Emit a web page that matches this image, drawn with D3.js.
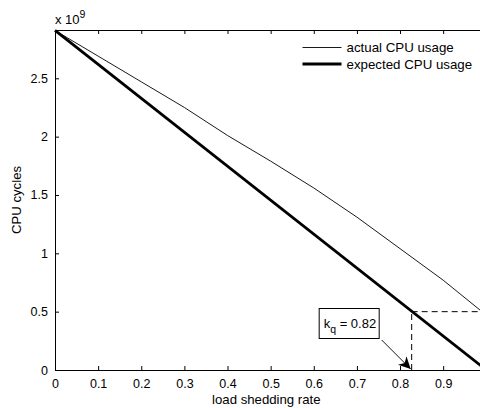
<!DOCTYPE html>
<html><head><meta charset="utf-8">
<script src="https://cdn.jsdelivr.net/npm/d3@7"></script>
<style>body{margin:0;background:#fff}svg{display:block}text{font-family:"Liberation Sans",Arial,Helvetica,sans-serif;fill:#000}</style>
</head><body><svg id="c" width="480" height="408"></svg>
<script>
const rates = [0,0.1,0.2,0.3,0.4,0.5,0.6,0.7,0.8,0.9,1.0];
const actualCPU = [2.91,2.69,2.47,2.25,2.01,1.79,1.56,1.31,1.04,0.77,0.47];
const expectedRates = [0,1.0];
const expectedCPU = [2.91,0];
const xTicks = [0,0.1,0.2,0.3,0.4,0.5,0.6,0.7,0.8,0.9,1];
const yTicks = [0,0.5,1,1.5,2,2.5];
const seriesNames = ["actual CPU usage","expected CPU usage"];
const kq = 0.827, kqLabel = "0.82", kqCPU = 0.5;

const svg = d3.select("#c");
const x = d3.scaleLinear().domain([0,1]).range([55,486.3]);
const y = d3.scaleLinear().domain([0,2.914]).range([370,30]);

const fmt = d => d===0 ? "0" : (d===1 ? "1" : String(d));
const xa = svg.append("g").attr("transform","translate(0,370)")
  .call(d3.axisBottom(x).tickValues(xTicks).tickSizeInner(-4).tickSizeOuter(0).tickPadding(9).tickFormat(d=>d===1?"":fmt(d)));
const xt = svg.append("g").attr("transform","translate(0,30)")
  .call(d3.axisTop(x).tickValues(xTicks).tickSizeInner(-4).tickSizeOuter(0).tickFormat(""));
const ya = svg.append("g").attr("transform","translate(55,0)")
  .call(d3.axisLeft(y).tickValues(yTicks).tickSizeInner(-4).tickSizeOuter(0).tickPadding(7).tickFormat(fmt));
[xa,xt,ya].forEach(g=>{
  g.select(".domain").attr("stroke","#000").attr("stroke-width",1);
  g.selectAll(".tick line").attr("stroke","#000");
  g.selectAll("text").attr("font-size",12.5).attr("font-family","Liberation Sans, Arial, sans-serif").attr("fill","#000");
});
svg.append("line").attr("x1",x(1)).attr("x2",x(1)).attr("y1",30).attr("y2",370).attr("stroke","#000");

const line = d3.line().x(d=>x(d[0])).y(d=>y(d[1]));
svg.append("path").datum(rates.map((r,i)=>[r,actualCPU[i]]))
  .attr("d",line).attr("fill","none").attr("stroke","#000").attr("stroke-width",0.9);
svg.append("path").datum(expectedRates.map((r,i)=>[r,expectedCPU[i]]))
  .attr("d",line).attr("fill","none").attr("stroke","#000").attr("stroke-width",2.8);

svg.append("line").attr("x1",x(kq)).attr("x2",x(kq)).attr("y1",y(0)).attr("y2",y(kqCPU))
  .attr("stroke","#000").attr("stroke-dasharray","6,4").attr("stroke-width",1);
svg.append("line").attr("x1",x(kq)).attr("x2",x(1)).attr("y1",y(kqCPU)).attr("y2",y(kqCPU))
  .attr("stroke","#000").attr("stroke-dasharray","6,4").attr("stroke-width",1);

const ax = x(kq), ay = y(0);
const bx = ax-30, by = ay-30;
svg.append("defs").append("marker").attr("id","ah").attr("viewBox","0 0 10 10").attr("refX",10).attr("refY",5)
  .attr("markerWidth",12).attr("markerHeight",12).attr("markerUnits","userSpaceOnUse").attr("orient","auto")
  .append("path").attr("d","M0,0 L10,5 L0,10 L3,5 Z").attr("fill","#000");
svg.append("line").attr("x1",bx).attr("y1",by).attr("x2",ax-1).attr("y2",ay-1)
  .attr("stroke","#000").attr("stroke-width",0.9).attr("marker-end","url(#ah)");
svg.append("rect").attr("x",ax-92.5).attr("y",ay-61.5).attr("width",60).attr("height",30)
  .attr("fill","#fff").attr("stroke","#000").attr("stroke-width",1);
const t = svg.append("text").attr("x",ax-88).attr("y",ay-42).attr("font-size",13);
t.append("tspan").text("k");
t.append("tspan").attr("dy",5).attr("font-size",10.5).text("q");
t.append("tspan").attr("dy",-5).text(" = "+kqLabel);

const lg = svg.append("g");
seriesNames.forEach((n,i)=>{
  const yy = 47.5 + i*16.5;
  lg.append("line").attr("x1",302.5).attr("x2",341.5).attr("y1",yy).attr("y2",yy)
    .attr("stroke","#000").attr("stroke-width",i===0?0.9:2.8);
  lg.append("text").attr("x",346.5).attr("y",yy+4.7).attr("font-size",13.3).text(n);
});

svg.append("text").attr("x",x(0.49)).attr("y",404).attr("text-anchor","middle").attr("font-size",13.2).text("load shedding rate");
svg.append("text").attr("transform","translate(21,200) rotate(-90)").attr("text-anchor","middle").attr("font-size",13.2).text("CPU cycles");
const e = svg.append("text").attr("x",55).attr("y",24).attr("font-size",13);
e.append("tspan").text("x 10");
e.append("tspan").attr("dy",-6).attr("font-size",10.5).text("9");
</script></body></html>
